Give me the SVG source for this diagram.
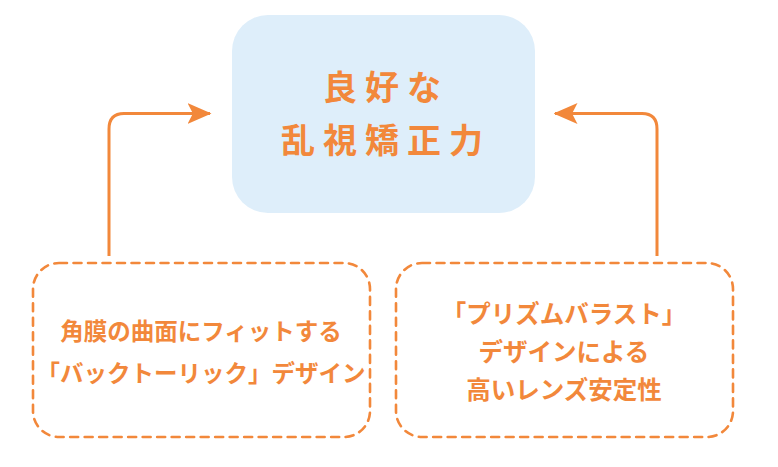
<svg xmlns="http://www.w3.org/2000/svg" width="778" height="467" viewBox="0 0 778 467">
<style>
.txt{font-family:"Noto Sans CJK JP","Noto Sans",sans-serif;font-weight:bold;fill:#F2883B;text-anchor:middle}
.big{font-size:34px;letter-spacing:8px}
.small{font-size:23.5px}
.small2{font-size:24.5px}
.dash{fill:#fff;stroke:#F2883B;stroke-width:2.6;stroke-dasharray:8 6.5;stroke-linecap:round}
.conn{fill:none;stroke:#F2883B;stroke-width:3}
</style>
<defs>
<marker id="ah" markerWidth="8" markerHeight="7" refX="7.5" refY="3.5" orient="auto" markerUnits="strokeWidth">
<path d="M0,0 L8,3.5 L0,7 L1.8,3.5 Z" fill="#F2883B"/>
</marker>
</defs>
<rect width="778" height="467" fill="#fff"/>
<g id="result">
<rect x="232" y="15" width="303" height="198" rx="36" fill="#DEEEFA"/>
<text class="txt big" x="386" y="100">良好な</text>
<text class="txt big" x="386" y="153">乱視矯正力</text>
</g>
<g id="toric">
<rect class="dash" x="33" y="263" width="337" height="174" rx="26"/>
<text class="txt small" x="201" y="340">角膜の曲面にフィットする</text>
<text class="txt small" x="201" y="382">「バックトーリック」デザイン</text>
</g>
<g id="prism">
<rect class="dash" x="396" y="263" width="337" height="174" rx="26"/>
<text class="txt small2" x="564" y="323">「プリズムバラスト」</text>
<text class="txt small2" x="564" y="361">デザインによる</text>
<text class="txt small2" x="564" y="399">高いレンズ安定性</text>
</g>
<g id="connectors">
<path class="conn" d="M109,256 V129 Q109,113.5 124,113.5 H210" marker-end="url(#ah)"/>
<path class="conn" d="M657,256 V129 Q657,113.5 642,113.5 H555" marker-end="url(#ah)"/>
</g>
</svg>
